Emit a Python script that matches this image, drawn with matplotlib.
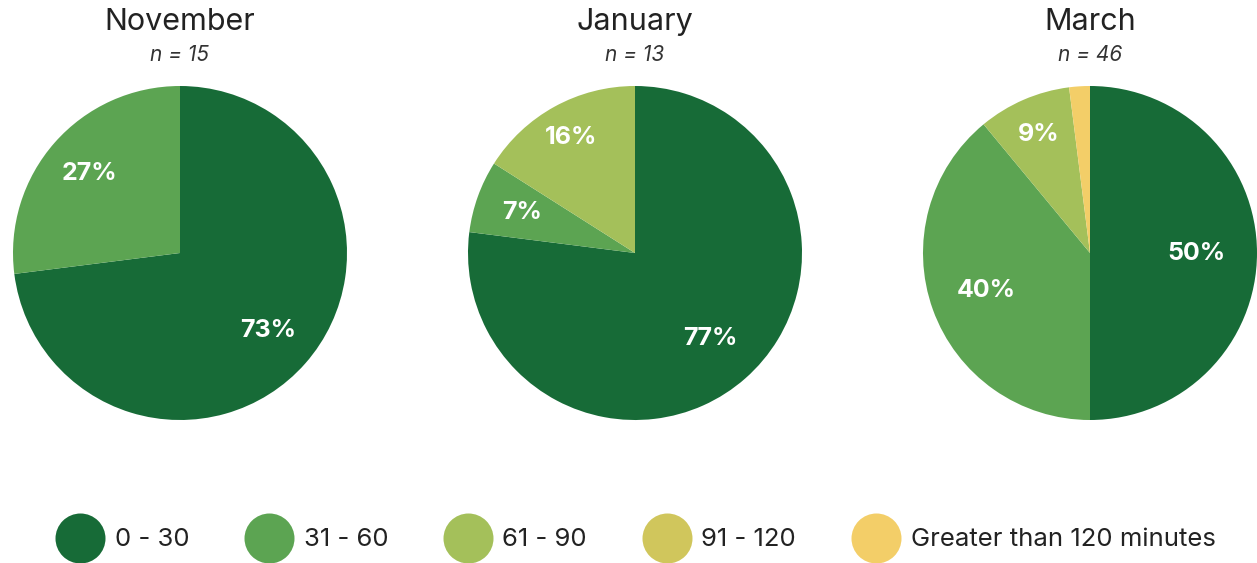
import numpy as np
import matplotlib.pyplot as plt
from matplotlib.lines import Line2D

plt.rcParams['font.family'] = ['Inter', 'DejaVu Sans']

months = ['November', 'January', 'March']
n_counts = [15, 13, 46]
categories = ['0 - 30', '31 - 60', '61 - 90', '91 - 120', 'Greater than 120 minutes']
colors = ['#176B37', '#5CA452', '#A4C05A', '#D0C65C', '#F3CE68']

# shares per month, and which category each slice belongs to
nov_values = [73, 27]
jan_values = [77, 7, 16]
mar_values = [50, 39, 9, 2]
nov_cats = [0, 1]
jan_cats = [0, 1, 2]
mar_cats = [0, 1, 2, 4]
nov_labels = ['73%', '27%']
jan_labels = ['77%', '7%', '16%']
mar_labels = ['50%', '40%', '9%', '']

all_values = [nov_values, jan_values, mar_values]
all_cats = [nov_cats, jan_cats, mar_cats]
all_labels = [nov_labels, jan_labels, mar_labels]
label_dist = [[0.70, 0.72], [0.68, 0.72, 0.79], [0.64, 0.66, 0.77, 0.5]]

W, H = 1257, 563
fig = plt.figure(figsize=(W / 100, H / 100), dpi=100)

centers_x = [180, 635, 1090]
cy, r = 253, 167

for i, month in enumerate(months):
    cx = centers_x[i]
    ax = fig.add_axes([(cx - r) / W, (H - cy - r) / H, 2 * r / W, 2 * r / H])
    vals = all_values[i]
    wedges, _ = ax.pie(vals, colors=[colors[c] for c in all_cats[i]],
                       startangle=90, counterclock=False, radius=1,
                       wedgeprops=dict(linewidth=0))
    for w, lab, d in zip(wedges, all_labels[i], label_dist[i]):
        ang = np.deg2rad((w.theta1 + w.theta2) / 2)
        ax.text(d * np.cos(ang), d * np.sin(ang), lab, color='white',
                fontsize=18, fontweight='bold', ha='center', va='center')
    ax.set_xlim(-1, 1)
    ax.set_ylim(-1, 1)
    ax.set_aspect('equal')
    ax.axis('off')

    fig.text(cx / W, 1 - 22 / H, month, ha='center', va='center',
             fontsize=22, color='#222222')
    fig.text(cx / W, 1 - 55 / H, f'n = {n_counts[i]}', ha='center',
             va='center', fontsize=15, style='italic', color='#333333')

handles = [Line2D([0], [0], marker='o', linestyle='', markersize=36,
                  markerfacecolor=c, markeredgewidth=0) for c in colors]
fig.legend(handles, categories, loc='center', ncol=5,
           bbox_to_anchor=(0.505, 1 - 540 / H), frameon=False,
           fontsize=18.5, handletextpad=0.35, columnspacing=2.1,
           labelcolor='#222222')

fig.savefig('out.png', dpi=100)
